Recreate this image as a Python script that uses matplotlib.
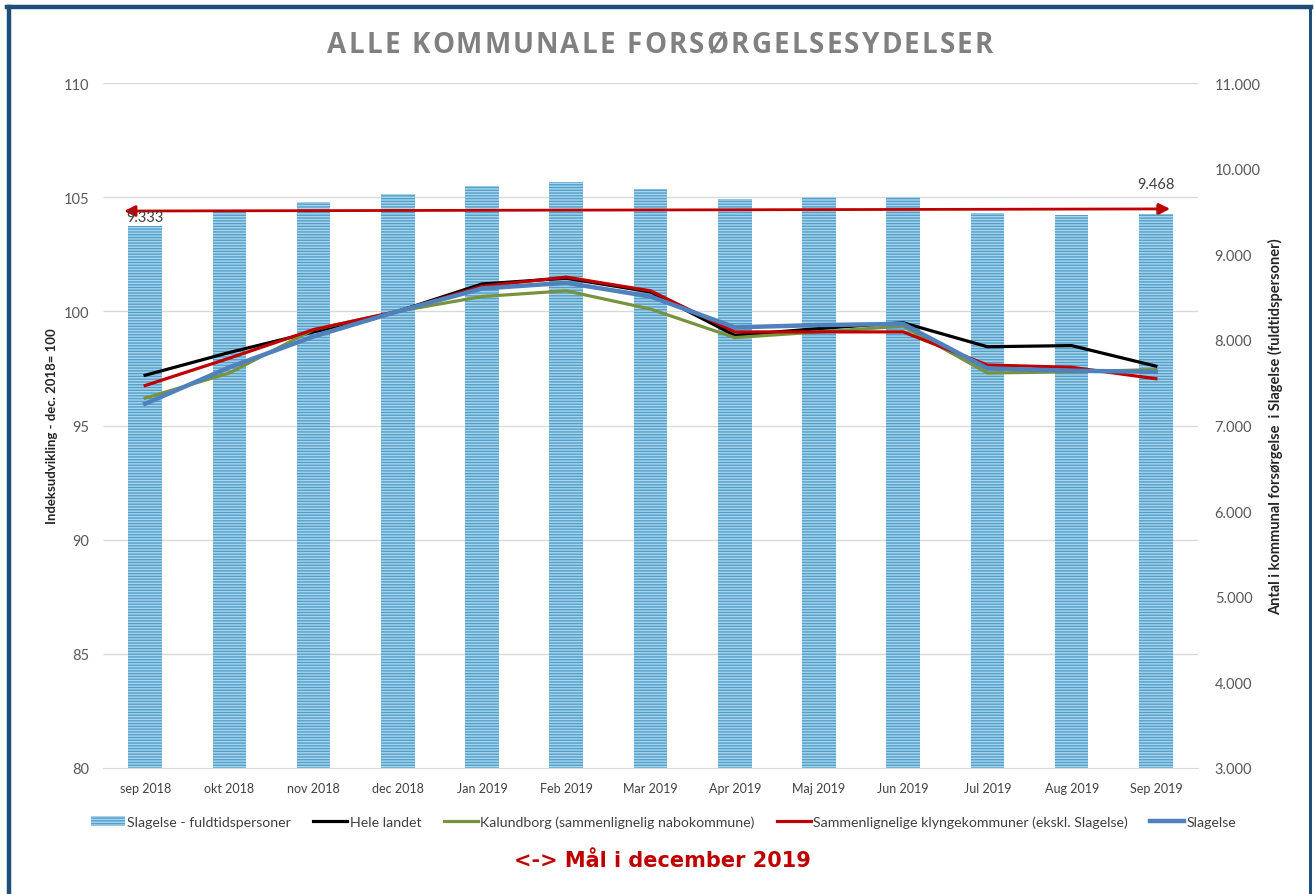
import matplotlib
matplotlib.use('Agg')
import matplotlib.pyplot as plt
import matplotlib.transforms as mtransforms
from matplotlib.lines import Line2D
from matplotlib.ticker import FuncFormatter, MultipleLocator

# Data
months = ['sep 2018', 'okt 2018', 'nov 2018', 'dec 2018', 'Jan 2019',
          'Feb 2019', 'Mar 2019', 'Apr 2019', 'Maj 2019', 'Jun 2019',
          'Jul 2019', 'Aug 2019', 'Sep 2019']
slagelse_fuldtid = [9333, 9507, 9612, 9706, 9799, 9846, 9764, 9647, 9671,
                    9671, 9484, 9460, 9468]
hele_landet = [97.2, 98.2, 99.1, 100.0, 101.2, 101.45, 100.85, 98.95, 99.25,
               99.5, 98.45, 98.5, 97.6]
kalundborg = [96.2, 97.3, 99.2, 100.0, 100.65, 100.9, 100.1, 98.85, 99.1,
              99.35, 97.3, 97.35, 97.45]
klynge = [96.75, 97.95, 99.2, 100.0, 101.1, 101.5, 100.9, 99.1, 99.1, 99.1,
          97.65, 97.55, 97.05]
slagelse = [95.95, 97.55, 98.9, 100.0, 101.0, 101.25, 100.65, 99.3, 99.4,
            99.45, 97.5, 97.4, 97.35]
# target arrow (right axis scale), from just left of first to last month
maal_x = [-0.25, 12.17]
maal_y = [9505, 9530]
label_idx = [0, 12]

GRAY = '#595959'
plt.rcParams['font.family'] = ['Lato', 'DejaVu Sans']
plt.rcParams['hatch.linewidth'] = 1.0

fig = plt.figure(figsize=(13.14, 8.95), dpi=100)
ax2 = fig.add_axes([0.0784, 0.1408, 0.8333, 0.7653])
ax = ax2.twinx()
ax.set_zorder(ax2.get_zorder() + 1)
ax.patch.set_visible(False)
ax.yaxis.tick_left()
ax.yaxis.set_label_position('left')
ax2.yaxis.tick_right()
ax2.yaxis.set_label_position('right')

x = list(range(len(months)))

# bars on the right-hand scale
bars = ax2.bar(x, slagelse_fuldtid, width=0.4, color='#a8d5ea',
               edgecolor='#539fcc', linewidth=0, hatch='------',
               label='Slagelse - fuldtidspersoner', zorder=2)
ax2.set_ylim(3000, 11000)
ax2.yaxis.set_major_locator(MultipleLocator(1000))
ax2.yaxis.set_major_formatter(
    FuncFormatter(lambda v, p: f'{int(v):,}'.replace(',', '.')))

# gridlines following the left scale, behind the bars
grid_tr = mtransforms.blended_transform_factory(ax2.transAxes, ax.transData)
ax.set_ylim(80, 110)
ax.yaxis.set_major_locator(MultipleLocator(5))
ax2.hlines(list(range(85, 111, 5)), 0, 1, transform=grid_tr,
           color='#d9d9d9', lw=1.0, zorder=1)

# index lines on the left scale
ax.plot(x, hele_landet, color='black', lw=2.3, label='Hele landet')
ax.plot(x, kalundborg, color='#77933c', lw=2.3,
        label='Kalundborg (sammenlignelig nabokommune)')
ax.plot(x, klynge, color='#c00000', lw=2.3,
        label='Sammenlignelige klyngekommuner (ekskl. Slagelse)')
ax.plot(x, slagelse, color='#4f81bd', lw=3.2, label='Slagelse')

# target arrow and labels
ax2.annotate('', xy=(maal_x[1], maal_y[1]), xytext=(maal_x[0], maal_y[0]),
             arrowprops=dict(arrowstyle='<|-|>', color='#c00000', lw=2.0,
                             mutation_scale=16, shrinkA=0, shrinkB=0),
             zorder=5)
ax2.vlines(label_idx[1], maal_y[1] - 60, maal_y[1] + 60, color='#7f7f7f',
           lw=0.8, zorder=4)
offsets = [1, 17]
for i, off in zip(label_idx, offsets):
    ax2.annotate(f'{slagelse_fuldtid[i]:,}'.replace(',', '.'),
                 (i, slagelse_fuldtid[i]), xytext=(0, off),
                 textcoords='offset points', ha='center', va='bottom',
                 fontsize=10.5, color='#404040', zorder=6)

ax.set_xlim(-0.5, len(months) - 0.5)
ax2.set_xticks(x, months)
for a in (ax, ax2):
    for s in ('top', 'left', 'right'):
        a.spines[s].set_visible(False)
    a.spines['bottom'].set_color('#d9d9d9')
ax.spines['bottom'].set_visible(False)
ax2.tick_params(axis='x', length=0, pad=10, labelsize=9, labelcolor='#404040')
ax.tick_params(axis='y', length=0, pad=10, labelsize=10.5, labelcolor=GRAY)
ax2.tick_params(axis='y', length=0, pad=12, labelsize=10.5, labelcolor=GRAY)
ax.tick_params(axis='x', length=0, labelbottom=False)

ax.set_ylabel('Indeksudvikling - dec. 2018= 100', fontsize=9.5,
              fontweight='bold', color='#262626', labelpad=4)
ax2.set_ylabel('Antal i kommunal forsørgelse  i Slagelse (fuldtidspersoner)',
               fontsize=10.5, fontweight='bold', color='#262626', labelpad=5,
               rotation=90)

# spaced-out title, character by character
title = 'ALLE KOMMUNALE FORSØRGELSESYDELSER'
tkw = dict(fontsize=20, fontweight='bold', color='#808080', family='Open Sans')
renderer = fig.canvas.get_renderer()


def text_w(s):
    t = fig.text(0, 0, s, **tkw)
    w = t.get_window_extent(renderer).width
    t.remove()
    return w


ref_w = text_w('H')
natural = text_w(title)
target_w = 666.0
spacing = (target_w - natural) / (len(title) - 1)
x0 = 660.0 - target_w / 2
for k, ch in enumerate(title):
    left = x0 + (text_w(title[:k] + 'H') - ref_w if k else 0) + k * spacing
    fig.text(left / 1314, 0.949, ch, ha='left', va='center', **tkw)

handles = [bars] + ax.get_lines()
labels = [h.get_label() for h in handles]
fig.legend(handles, labels, loc='center', bbox_to_anchor=(0.505, 0.081),
           ncol=5, frameon=False, fontsize=10.2, handlelength=2.4,
           handletextpad=0.15, columnspacing=1.6, labelcolor='#404040')

fig.text(0.504, 0.038, '<-> Mål i december 2019', ha='center', va='center',
         fontsize=15, fontweight='bold', color='#c00000', family='DejaVu Sans')

# dark blue frame around the chart (open at the bottom)
frame = dict(color='#1f4e79', transform=fig.transFigure)
fig.add_artist(Line2D([9 / 1314, 9 / 1314], [0, 1 - 8 / 895], lw=3.2, **frame))
fig.add_artist(Line2D([7 / 1314, 1311 / 1314], [1 - 8 / 895, 1 - 8 / 895],
                      lw=3.2, **frame))
fig.add_artist(Line2D([1309.5 / 1314, 1309.5 / 1314], [0, 1 - 8 / 895],
                      lw=2.2, **frame))

fig.savefig('out.png', dpi=100)
